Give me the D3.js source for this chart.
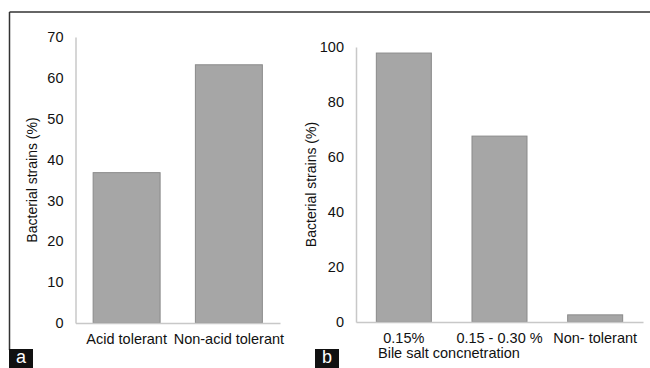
<!DOCTYPE html>
<html>
<head>
<meta charset="utf-8">
<script src="https://cdn.jsdelivr.net/npm/d3@7"></script>
<style>
  body { margin: 0; background: #fff; }
  text { font-family: "Liberation Sans", Arial, sans-serif; fill: #111; }
</style>
</head>
<body>
<div id="chart"></div>
<script>
// Panel a: acid tolerance
const acidCategories = ['Acid tolerant', 'Non-acid tolerant'];
const acidValues = [36.8, 63.2];
const acidTicks = [0, 10, 20, 30, 40, 50, 60, 70];

// Panel b: bile salt tolerance
const bileCategories = ['0.15%', '0.15 - 0.30 %', 'Non- tolerant'];
const bileValues = [97.8, 67.6, 2.6];
const bileTicks = [0, 20, 40, 60, 80, 100];

const svg = d3.select('#chart')
    .append('svg')
    .attr('width', 650)
    .attr('height', 368);

// Frame lines (top and left)
svg.append('line')
    .attr('x1', 9.5).attr('x2', 650).attr('y1', 12).attr('y2', 12)
    .attr('stroke', '#333').attr('stroke-width', 1.5);
svg.append('line')
    .attr('x1', 9.5).attr('x2', 9.5).attr('y1', 12).attr('y2', 350)
    .attr('stroke', '#333').attr('stroke-width', 1.5);

function drawPanel(opts) {
    const x = d3.scaleBand()
        .domain(opts.categories)
        .range([opts.x0, opts.x1])
        .paddingInner(opts.padding)
        .paddingOuter(opts.padding / 2);
    const y = d3.scaleLinear()
        .domain([0, d3.max(opts.ticks)])
        .range([opts.y0, opts.y1]);

    const g = svg.append('g');

    // Bars
    g.selectAll('rect')
        .data(opts.values)
        .join('rect')
        .attr('x', (d, i) => x(opts.categories[i]))
        .attr('y', d => y(d))
        .attr('width', x.bandwidth())
        .attr('height', d => y(0) - y(d))
        .attr('fill', '#a6a6a6')
        .attr('stroke', '#8a8a8a')
        .attr('stroke-width', 1);

    // Y axis
    const yAxis = g.append('g')
        .attr('transform', `translate(${opts.x0},0)`)
        .call(d3.axisLeft(y).tickValues(opts.ticks).tickSize(0).tickPadding(12));
    yAxis.select('.domain').attr('stroke', '#c8c8c8').attr('stroke-width', 1.5);
    yAxis.selectAll('text').style('font-size', '14.5px').attr('fill', '#111');

    // X axis
    const xAxis = g.append('g')
        .attr('transform', `translate(0,${opts.y0})`)
        .call(d3.axisBottom(x).tickSize(0).tickPadding(11));
    xAxis.select('.domain').attr('stroke', '#c8c8c8').attr('stroke-width', 1.5);
    xAxis.selectAll('text').style('font-size', '14.5px').attr('fill', '#111');

    // Y axis title
    g.append('text')
        .attr('transform', `translate(${opts.titleX},${(opts.y0 + opts.y1) / 2}) rotate(-90)`)
        .attr('text-anchor', 'middle')
        .attr('dy', '0.35em')
        .style('font-size', '14px')
        .text('Bacterial strains (%)');

    // Panel letter
    svg.append('rect')
        .attr('x', opts.letterX).attr('y', 349)
        .attr('width', 24).attr('height', 19)
        .attr('fill', '#111');
    svg.append('text')
        .attr('x', opts.letterX + 12).attr('y', 363)
        .attr('text-anchor', 'middle')
        .style('font-size', '18px')
        .style('fill', '#fff')
        .text(opts.letter);

    return x;
}

drawPanel({
    categories: acidCategories, values: acidValues, ticks: acidTicks,
    x0: 75.5, x1: 280, y0: 323, y1: 37, padding: 0.345,
    titleX: 32, letterX: 9, letter: 'a'
});

drawPanel({
    categories: bileCategories, values: bileValues, ticks: bileTicks,
    x0: 356, x1: 643, y0: 322, y1: 47, padding: 0.425,
    titleX: 311, letterX: 315, letter: 'b'
});

// X axis title for panel b
svg.append('text')
    .attr('x', 378)
    .attr('y', 358)
    .style('font-size', '14.5px')
    .text('Bile salt concnetration');
</script>
</body>
</html>
